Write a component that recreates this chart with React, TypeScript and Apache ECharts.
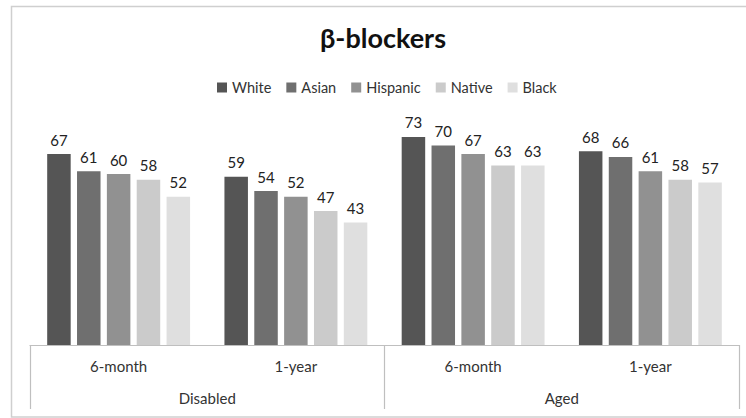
import React, { useEffect, useRef } from "react";
import * as echarts from "echarts";

// Treatment periods within each eligibility group
const periods = ["6-month", "1-year", "6-month", "1-year"];
const groups = ["Disabled", "Aged"];
const seriesNames = ["White", "Asian", "Hispanic", "Native", "Black"];

// Percentage on β-blockers by race/ethnicity
const white = [67, 59, 73, 68];
const asian = [61, 54, 70, 66];
const hispanic = [60, 52, 67, 61];
const native = [58, 47, 63, 58];
const black = [52, 43, 63, 57];

const palette = ["#555555", "#6f6f6f", "#919191", "#cbcbcb", "#dfdfdf"];
const FONT = "Lato, 'Open Sans', sans-serif";

export default function App() {
  const ref = useRef<HTMLDivElement>(null);

  useEffect(() => {
    if (!ref.current) return;
    const chart = echarts.init(ref.current, undefined, { renderer: "svg" });
    const values = [white, asian, hispanic, native, black];

    chart.setOption({
      animation: false,
      textStyle: { fontFamily: FONT },
      title: {
        text: "β-blockers",
        left: 315,
        top: 19,
        textStyle: { fontSize: 27, fontWeight: "bold", color: "#111", fontFamily: FONT },
      },
      legend: {
        top: 75,
        left: 212,
        icon: "rect",
        itemWidth: 10,
        itemHeight: 10,
        itemGap: 15,
        data: seriesNames,
        textStyle: { fontSize: 14.5, color: "#333", fontFamily: FONT },
      },
      grid: { left: 30, right: 7, top: 117, bottom: 73 },
      xAxis: [
        {
          type: "category",
          data: periods,
          position: "bottom",
          axisLine: { lineStyle: { color: "#bfbfbf", width: 1.2 } },
          axisTick: { show: false },
          axisLabel: { margin: 13, fontSize: 15, color: "#333", fontFamily: FONT },
        },
        {
          type: "category",
          data: groups,
          position: "bottom",
          axisLine: { show: false },
          axisTick: {
            show: true,
            length: 64,
            inside: false,
            lineStyle: { color: "#bfbfbf", width: 1.2 },
          },
          axisLabel: { margin: 45, fontSize: 15, color: "#333", fontFamily: FONT },
        },
      ],
      yAxis: {
        type: "value",
        min: 0,
        max: 80,
        show: false,
        splitLine: { show: false },
      },
      graphic: [
        {
          type: "rect",
          shape: { x: 11.5, y: 6.5, width: 760, height: 410.5 },
          style: { fill: "none", stroke: "#cfcfcf", lineWidth: 1.5 },
          silent: true,
        },
      ],
      series: seriesNames.map((name, i) => ({
        name,
        type: "bar",
        xAxisIndex: 0,
        data: values[i],
        barWidth: 23.5,
        barGap: "27%",
        itemStyle: { color: palette[i] },
        label: {
          show: true,
          position: "top",
          distance: 7,
          fontSize: 15,
          color: "#222",
          fontFamily: FONT,
        },
      })),
    });

    return () => chart.dispose();
  }, []);

  return (
    <div
      ref={ref}
      style={{
        position: "absolute",
        left: 0,
        top: 0,
        width: 746,
        height: 418,
        background: "#fff",
      }}
    />
  );
}
